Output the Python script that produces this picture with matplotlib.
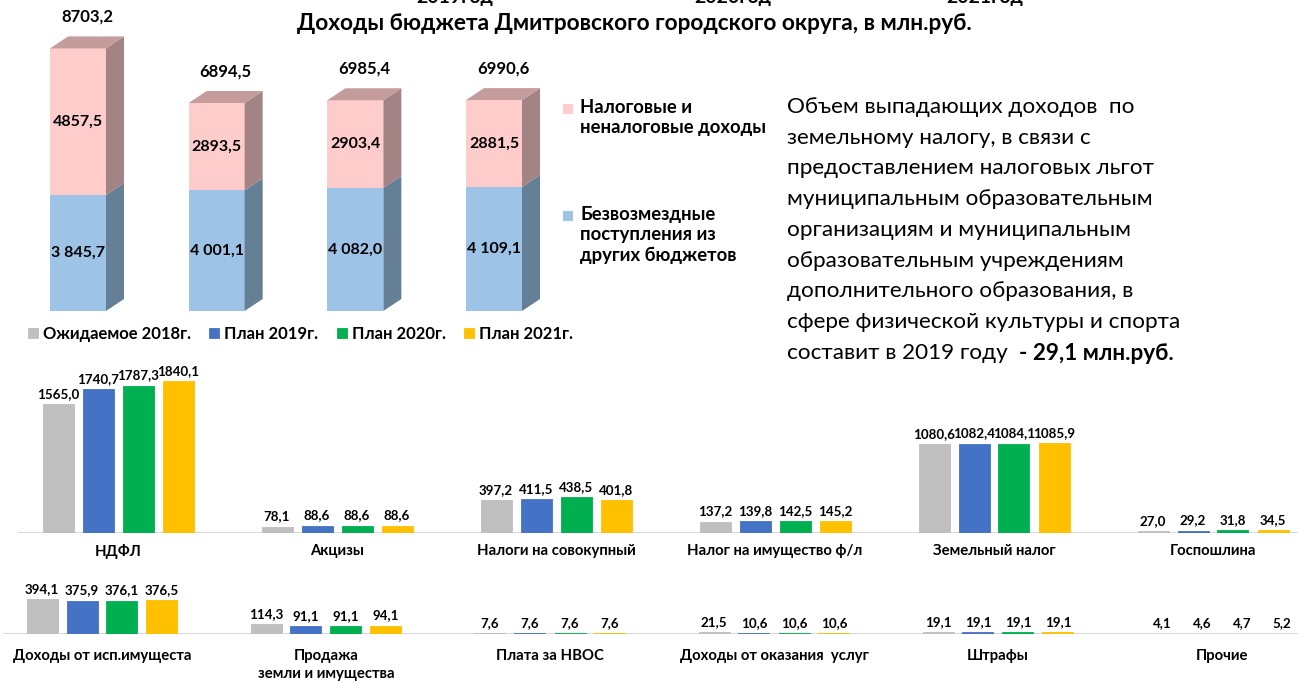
import matplotlib
matplotlib.use("Agg")
import matplotlib.pyplot as plt
from matplotlib.patches import Polygon, Rectangle
from matplotlib.text import Annotation

plt.rcParams['font.family'] = ['Lato', 'DejaVu Sans']

# --- данные: доходы бюджета (объёмная диаграмма) ---
budget_years = ["2018", "2019", "2020", "2021"]
bezvozmezd = [3845.7, 4001.1, 4082.0, 4109.1]
nalog_nenalog = [4857.5, 2893.5, 2903.4, 2881.5]
totals = [8703.2, 6894.5, 6985.4, 6990.6]

# --- данные: структура налоговых и неналоговых доходов ---
series_names = ["Ожидаемое 2018г.", "План 2019г.", "План 2020г.", "План 2021г."]
series_colors = ["#BFBFBF", "#4472C4", "#00B050", "#FFC000"]

cats_top = ["НДФЛ", "Акцизы", "Налоги на совокупный", "Налог на имущество ф/л",
            "Земельный налог", "Госпошлина"]
vals_2018_top = [1565.0, 78.1, 397.2, 137.2, 1080.6, 27.0]
vals_2019_top = [1740.7, 88.6, 411.5, 139.8, 1082.4, 29.2]
vals_2020_top = [1787.3, 88.6, 438.5, 142.5, 1084.1, 31.8]
vals_2021_top = [1840.1, 88.6, 401.8, 145.2, 1085.9, 34.5]

cats_bot = ["Доходы от исп.имущеста", "Продажа\nземли и имущества", "Плата за НВОС",
            "Доходы от оказания  услуг", "Штрафы", "Прочие"]
vals_2018_bot = [394.1, 114.3, 7.6, 21.5, 19.1, 4.1]
vals_2019_bot = [375.9, 91.1, 7.6, 10.6, 19.1, 4.6]
vals_2020_bot = [376.1, 91.1, 7.6, 10.6, 19.1, 4.7]
vals_2021_bot = [376.5, 94.1, 7.6, 10.6, 19.1, 5.2]

note_lines = [
    "Объем выпадающих доходов  по",
    "земельному налогу, в связи с",
    "предоставлением налоговых льгот",
    "муниципальным образовательным",
    "организациям и муниципальным",
    "образовательным учреждениям",
    "дополнительного образования, в",
    "сфере физической культуры и спорта",
]
note_last = "составит в 2019 году  "
note_last_bold = "- 29,1 млн.руб."

W, H = 1298, 683
fig = plt.figure(figsize=(W / 100, H / 100), dpi=100)


def px_axes(x0, y_top, x1, y_bottom):
    ax = fig.add_axes([x0 / W, 1 - y_bottom / H, (x1 - x0) / W, (y_bottom - y_top) / H])
    ax.patch.set_alpha(0)
    return ax


def ru(v):
    return f"{v:.1f}".replace(".", ",")


def ru_sp(v):
    return f"{v:,.1f}".replace(",", " ").replace(".", ",")


# ---------- объёмные столбцы ----------
ax3 = px_axes(8.65, 0, 563.35, 311)
ax3.set_xlim(-0.5, 3.5)
px_per_unit = 0.03017
ax3.set_ylim(0, 311 / px_per_unit)
ax3.axis("off")

bw = 56 / 138.67
ddx = 18 / 138.67
ddy = 12 / px_per_unit
pink_front, pink_side, pink_top = "#FFCCCC", "#A38383", "#C49C9C"
blue_front, blue_side = "#9DC3E6", "#657F97"

xs = list(range(len(budget_years)))
ax3.bar(xs, bezvozmezd, width=bw, color=blue_front, linewidth=0)
ax3.bar(xs, nalog_nenalog, width=bw, bottom=bezvozmezd, color=pink_front, linewidth=0)

for i in xs:
    r = i + bw / 2
    l = i - bw / 2
    b0, b1 = 0, bezvozmezd[i]
    t1 = bezvozmezd[i] + nalog_nenalog[i]
    ax3.add_patch(Polygon([(r, b0), (r + ddx, b0 + ddy), (r + ddx, b1 + ddy), (r, b1)],
                          closed=True, color=blue_side, lw=0))
    ax3.add_patch(Polygon([(r, b1), (r + ddx, b1 + ddy), (r + ddx, t1 + ddy), (r, t1)],
                          closed=True, color=pink_side, lw=0))
    ax3.add_patch(Polygon([(l, t1), (l + ddx, t1 + ddy), (r + ddx, t1 + ddy), (r, t1)],
                          closed=True, color=pink_top, lw=0))
    ax3.text(i, bezvozmezd[i] / 2, ru_sp(bezvozmezd[i]), ha="center", va="center",
             fontsize=11.5, fontweight="bold")
    ax3.text(i, bezvozmezd[i] + nalog_nenalog[i] / 2, ru(nalog_nenalog[i]),
             ha="center", va="center", fontsize=11.5, fontweight="bold")
    ax3.annotate(ru(totals[i]), xy=(i + ddx / 2, t1 + ddy), xytext=(0, 14),
                 textcoords="offset points", ha="center", va="center",
                 fontsize=12, fontweight="bold")

# легенда объёмной диаграммы
for y_sq, lines, col in [(109, "Налоговые и\nненалоговые доходы", pink_front),
                         (216, "Безвозмездные\nпоступления из\nдругих бюджетов", blue_front)]:
    fig.patches.append(Rectangle((563 / W, 1 - (y_sq + 5) / H), 10 / W, 10 / H,
                                 transform=fig.transFigure, color=col, lw=0))
    fig.text(580 / W, 1 - (y_sq - 10) / H, lines, ha="left", va="top", fontsize=13.3,
             fontweight="bold", linespacing=1.25)

# заголовок и обрезанные сверху подписи
fig.text(634 / W, 1 - 23 / H, "Доходы бюджета Дмитровского городского округа, в млн.руб.",
         ha="center", va="center", fontsize=16.3, fontweight="bold")
for xc, yr in [(455, "2019год"), (733, "2020год"), (985, "2021год")]:
    fig.text(xc / W, 1 + 2 / H, yr, ha="center", va="center", fontsize=14, fontweight="bold")

# текст справа
for k, line in enumerate(note_lines):
    fig.text(787 / W, 1 - (107 + 30.75 * k) / H, line, ha="left", va="center", fontsize=16.2)
t_last = fig.text(787 / W, 1 - (107 + 30.75 * 8) / H, note_last, ha="left", va="center",
                  fontsize=16.2)
fig.add_artist(Annotation(note_last_bold, xy=(1, 0.5), xycoords=t_last, ha="left",
                          va="center", fontsize=16.2, fontweight="bold"))


# ---------- сгруппированные столбцы ----------
def grouped(ax, cats, series, step_px, first_px, line_from, label_pad):
    ax.set_xlim((0 - first_px) / step_px, (W - first_px) / step_px)
    off = 40 / step_px
    handles = []
    for s, (vals, col) in enumerate(zip(series, series_colors)):
        pos = [i + (s - 1.5) * off for i in range(len(cats))]
        h = ax.bar(pos, vals, width=31 / step_px, color=col, edgecolor=col, linewidth=0.6)
        handles.append(h)
        for p, v in zip(pos, vals):
            ax.annotate(ru(v), xy=(p, v), xytext=(0, 3), textcoords="offset points",
                        ha="center", va="bottom", fontsize=9.6, fontweight="bold")
    ax.axhline(0, xmin=line_from / W, xmax=1, color="#D9D9D9", lw=1.5, zorder=0)
    for sp in ax.spines.values():
        sp.set_visible(False)
    ax.set_yticks([])
    ax.set_xticks(range(len(cats)))
    ax.set_xticklabels(cats, fontsize=10.7, fontweight="bold", linespacing=1.3)
    ax.tick_params(axis="x", length=0, pad=label_pad)
    return handles


ax1 = px_axes(0, 370, W, 533)
ax1.set_ylim(0, 163 / 0.0825)
h1 = grouped(ax1, cats_top, [vals_2018_top, vals_2019_top, vals_2020_top, vals_2021_top],
             219, 118, 19, 8)

ax2 = px_axes(0, 570, W, 634)
ax2.set_ylim(0, 64 / 0.089)
grouped(ax2, cats_bot, [vals_2018_bot, vals_2019_bot, vals_2020_bot, vals_2021_bot],
        224, 102, 4, 11)

fig.legend(h1, series_names, loc="center left", bbox_to_anchor=(28 / W, 1 - 334 / H),
           ncol=4, frameon=False, handlelength=0.6, handleheight=0.6, handletextpad=0.3,
           columnspacing=1.1, borderaxespad=0, borderpad=0,
           prop={"size": 12, "weight": "bold"})

fig.savefig("out.png", dpi=100, facecolor="white")
